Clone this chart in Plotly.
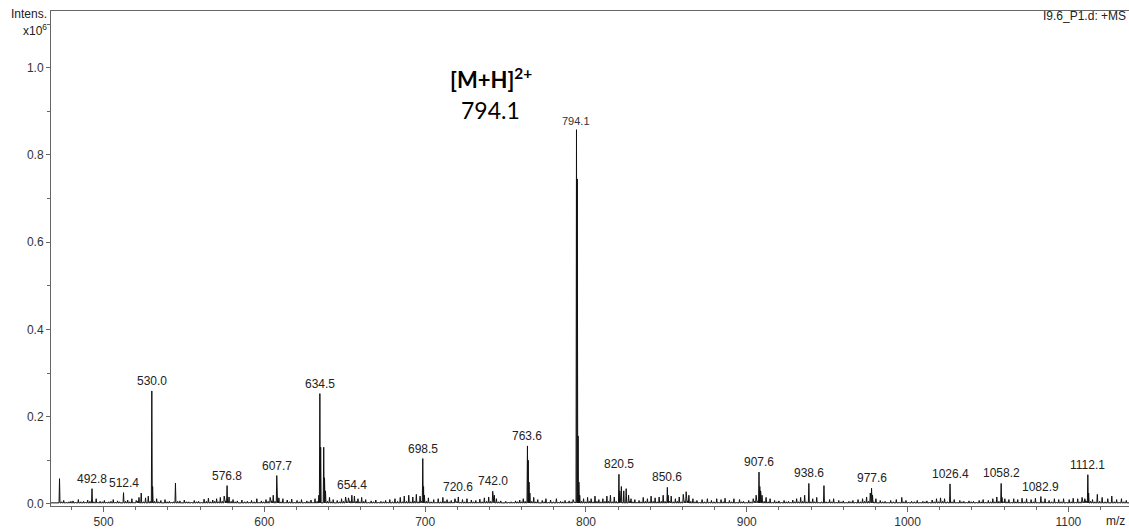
import plotly.graph_objects as go

# Annotated peaks: m/z, intensity (x10^6)
label_mz = [492.8, 512.4, 530.0, 576.8, 607.7, 634.5, 654.4, 698.5, 720.6, 742.0,
            763.6, 794.1, 820.5, 850.6, 907.6, 938.6, 977.6, 1026.4, 1058.2, 1082.9, 1112.1]
label_int = [0.035, 0.026, 0.259, 0.042, 0.065, 0.253, 0.020, 0.104, 0.016, 0.029,
             0.133, 0.858, 0.068, 0.038, 0.073, 0.047, 0.036, 0.046, 0.047, 0.017, 0.067]

# Unlabelled peaks and isotope companions
extra_mz = [472.6, 530.5, 544.7, 633.9, 635.0, 636.9, 637.4, 638.0, 699.0, 699.5,
            764.1, 764.6, 765.1, 794.6, 795.1, 795.6, 796.1, 821.0, 822.0, 823.5,
            825.0, 826.5, 851.1, 908.1, 908.6, 909.5, 936.0, 948.0, 976.8, 978.2,
            1058.7, 1112.6, 743.0]
extra_int = [0.058, 0.040, 0.048, 0.020, 0.130, 0.130, 0.060, 0.030, 0.040, 0.020,
             0.100, 0.050, 0.025, 0.745, 0.156, 0.050, 0.020, 0.030, 0.040, 0.030,
             0.035, 0.020, 0.020, 0.040, 0.030, 0.020, 0.020, 0.042, 0.025, 0.020,
             0.015, 0.025, 0.020]

# Low-level background signals
noise_mz = [475.2, 478.5, 481.0, 484.3, 487.6, 490.1, 495.4, 497.8, 500.5, 503.2, 506.0,
            508.7, 515.0, 517.6, 520.3, 522.0, 523.4, 526.1, 527.8,
            533.0, 535.6, 538.2, 540.9, 547.5, 550.2, 553.0, 556.4, 559.1, 562.5, 565.2,
            567.9, 570.3, 572.6, 575.0, 578.0, 580.5, 583.2, 586.0, 589.4, 592.0, 595.3, 598.1,
            601.0, 603.6, 605.5, 609.0, 611.5, 614.2, 617.0, 620.3, 623.1, 626.4, 629.0, 631.5,
            640.5, 642.8, 645.3, 648.0, 650.5, 652.3, 656.0, 658.2, 660.5, 663.0, 666.4, 669.3,
            672.5, 675.4, 678.0, 681.2, 684.5, 687.0, 689.8, 692.3, 694.5, 696.8,
            702.0, 705.3, 708.1, 711.0, 713.6, 716.2, 718.5, 723.2, 726.0, 728.7, 731.5, 734.0,
            736.8, 739.5, 744.3, 747.0, 750.1, 753.4, 756.2, 758.8, 761.0,
            767.5, 770.0, 772.8, 775.1, 778.0, 781.6, 784.2, 787.0, 789.5, 792.0,
            798.5, 801.0, 803.2, 805.6, 808.0, 810.5, 813.0, 815.2, 817.6, 828.0, 830.4,
            833.0, 835.6, 838.2, 840.5, 843.0, 845.5, 848.0, 853.0, 855.6, 858.0, 860.5, 862.3,
            864.0, 866.5, 869.0, 872.2, 875.5, 878.0, 881.3, 884.0, 886.5, 889.2, 892.0, 895.5,
            898.0, 901.2, 904.0, 905.8,
            912.0, 914.5, 917.3, 920.0, 923.2, 926.0, 928.6, 931.0, 933.5, 941.0, 943.5,
            951.5, 954.0, 957.2, 960.0, 963.5, 966.0, 969.2, 972.0, 974.5, 980.3, 983.0, 986.0,
            989.5, 993.0, 996.4, 999.0,
            1002.5, 1006.0, 1009.5, 1012.0, 1015.3, 1018.0, 1020.5, 1023.0, 1029.0, 1032.5,
            1035.0, 1038.2, 1041.0, 1044.5, 1047.0, 1050.2, 1053.0, 1055.5, 1060.5, 1063.0,
            1066.0, 1068.5, 1071.2, 1074.0, 1076.8, 1079.5, 1085.5, 1088.0, 1091.3, 1094.0,
            1097.0, 1100.5, 1103.0, 1105.8, 1108.5, 1110.2, 1115.0, 1118.0, 1121.0, 1124.5,
            1127.0, 1130.0, 1133.0, 1136.0]
noise_int = [0.008, 0.005, 0.007, 0.010, 0.006, 0.009, 0.012, 0.006, 0.008, 0.005, 0.010,
             0.007, 0.009, 0.012, 0.008, 0.015, 0.025, 0.014, 0.018,
             0.012, 0.008, 0.010, 0.006, 0.007, 0.009, 0.005, 0.008, 0.006, 0.011, 0.013,
             0.009, 0.012, 0.015, 0.018, 0.016, 0.010, 0.007, 0.009, 0.006, 0.008, 0.012, 0.007,
             0.010, 0.015, 0.020, 0.014, 0.012, 0.009, 0.011, 0.008, 0.010, 0.007, 0.009, 0.012,
             0.015, 0.010, 0.008, 0.012, 0.016, 0.014, 0.018, 0.012, 0.015, 0.010, 0.007, 0.009,
             0.006, 0.008, 0.010, 0.012, 0.015, 0.018, 0.020, 0.016, 0.022, 0.018,
             0.014, 0.010, 0.012, 0.015, 0.010, 0.008, 0.012, 0.010, 0.012, 0.009, 0.008, 0.011,
             0.014, 0.016, 0.012, 0.007, 0.006, 0.005, 0.007, 0.009, 0.012,
             0.015, 0.010, 0.008, 0.012, 0.009, 0.012, 0.006, 0.008, 0.007, 0.010,
             0.012, 0.015, 0.012, 0.018, 0.010, 0.012, 0.018, 0.020, 0.016, 0.012, 0.010,
             0.008, 0.015, 0.012, 0.018, 0.014, 0.016, 0.020, 0.018, 0.012, 0.016, 0.022, 0.028,
             0.020, 0.012, 0.008, 0.010, 0.012, 0.008, 0.012, 0.010, 0.013, 0.008, 0.012, 0.010,
             0.006, 0.008, 0.012, 0.020,
             0.015, 0.012, 0.008, 0.007, 0.008, 0.006, 0.009, 0.012, 0.015, 0.012, 0.015,
             0.010, 0.012, 0.008, 0.007, 0.006, 0.008, 0.010, 0.012, 0.016, 0.012, 0.008, 0.006,
             0.008, 0.010, 0.015, 0.008,
             0.006, 0.008, 0.006, 0.007, 0.009, 0.012, 0.014, 0.012, 0.010, 0.008,
             0.006, 0.007, 0.006, 0.008, 0.010, 0.008, 0.012, 0.016, 0.012, 0.010,
             0.012, 0.010, 0.013, 0.012, 0.010, 0.013, 0.012, 0.008, 0.012, 0.010,
             0.012, 0.010, 0.013, 0.012, 0.015, 0.012, 0.010, 0.022, 0.015, 0.012,
             0.018, 0.010, 0.012, 0.008]

# Fine chemical-noise spikes filling the baseline
fine_mz = [469.8, 473.9, 476.8, 479.7, 482.6, 485.9, 488.8, 491.5, 494.0, 496.5, 499.2,
           501.8, 504.6, 507.3, 510.0, 511.3, 513.7, 516.3, 518.9, 521.2, 524.8, 529.0,
           531.6, 534.3, 536.9, 539.5, 542.2, 543.5, 546.1, 548.8, 551.6, 554.7, 557.8,
           560.8, 563.9, 566.6, 569.1, 571.5, 573.8, 576.0, 579.3, 581.8, 584.6, 587.7,
           590.7, 593.6, 596.7, 599.5, 602.3, 604.6, 606.6, 608.5, 610.3, 612.9, 615.6,
           618.7, 621.7, 624.8, 627.7, 630.3, 632.8, 639.2, 641.6, 644.1, 646.7, 649.3,
           651.4, 653.3, 655.2, 657.1, 659.4, 661.8, 664.6, 667.9, 670.9, 674.0, 676.7,
           679.6, 682.9, 685.8, 688.4, 691.0, 693.4, 695.6, 697.6, 700.7, 703.7, 706.7,
           709.6, 712.3, 714.9, 717.4, 719.5, 721.8, 724.6, 727.4, 730.1, 732.8, 735.4,
           738.2, 740.8, 745.7, 748.6, 751.8, 754.8, 757.5, 759.9, 762.2, 766.3, 768.8,
           771.4, 774.0, 776.6, 779.8, 783.0, 785.6, 788.3, 790.8, 793.0, 797.3, 799.8,
           802.1, 804.4, 806.8, 809.3, 811.8, 814.1, 816.4, 818.8, 827.2, 829.2, 831.7,
           834.3, 836.9, 839.4, 841.8, 844.3, 846.8, 849.2, 852.0, 854.3, 856.8, 859.3,
           861.4, 863.2, 865.2, 867.8, 870.6, 873.8, 876.8, 879.6, 882.6, 885.3, 887.8,
           890.6, 893.8, 896.8, 899.6, 902.6, 904.9, 906.7, 910.8, 913.3, 915.9, 918.7,
           921.6, 924.6, 927.3, 929.8, 932.2, 934.8, 937.3, 939.8, 942.2, 944.8, 946.5,
           949.3, 950.6, 952.8, 955.6, 958.6, 961.8, 964.8, 967.6, 970.6, 973.3, 975.7,
           979.0, 981.6, 984.5, 987.8, 991.2, 994.7, 997.7, 1000.7, 1004.2, 1007.8, 1010.8,
           1013.6, 1016.6, 1019.3, 1021.8, 1024.8, 1027.6, 1030.8, 1033.8, 1036.6, 1039.6,
           1042.8, 1045.8, 1048.6, 1051.6, 1054.3, 1056.8, 1059.6, 1061.8, 1064.5, 1067.3,
           1069.8, 1072.6, 1075.4, 1078.2, 1081.0, 1084.2, 1086.8, 1089.6, 1092.6, 1095.5,
           1098.8, 1101.8, 1104.4, 1107.2, 1109.4, 1111.2, 1113.8, 1116.5, 1119.5, 1122.8,
           1125.8, 1128.5, 1131.5, 1134.5]
fine_int = [0.004, 0.005, 0.004, 0.006, 0.004, 0.005, 0.004, 0.006, 0.005, 0.004, 0.005,
            0.004, 0.006, 0.004, 0.005, 0.004, 0.006, 0.005, 0.004, 0.006, 0.005, 0.006,
            0.006, 0.005, 0.004, 0.005, 0.004, 0.005, 0.006, 0.004, 0.005, 0.004, 0.005,
            0.004, 0.006, 0.005, 0.006, 0.005, 0.006, 0.007, 0.006, 0.005, 0.004, 0.005,
            0.004, 0.005, 0.004, 0.005, 0.006, 0.007, 0.006, 0.006, 0.005, 0.004, 0.005,
            0.004, 0.005, 0.004, 0.005, 0.004, 0.006, 0.006, 0.005, 0.004, 0.005, 0.006,
            0.005, 0.006, 0.005, 0.006, 0.005, 0.006, 0.004, 0.005, 0.004, 0.005, 0.004,
            0.005, 0.006, 0.005, 0.006, 0.005, 0.006, 0.005, 0.006, 0.006, 0.005, 0.004,
            0.005, 0.006, 0.005, 0.004, 0.005, 0.004, 0.005, 0.004, 0.005, 0.004, 0.005,
            0.006, 0.006, 0.005, 0.004, 0.004, 0.004, 0.005, 0.005, 0.006, 0.006, 0.005,
            0.004, 0.005, 0.004, 0.005, 0.004, 0.005, 0.004, 0.005, 0.004, 0.006, 0.005,
            0.006, 0.005, 0.006, 0.005, 0.006, 0.006, 0.005, 0.006, 0.006, 0.005, 0.004,
            0.005, 0.006, 0.005, 0.006, 0.005, 0.006, 0.006, 0.006, 0.005, 0.006, 0.005,
            0.006, 0.007, 0.006, 0.005, 0.004, 0.005, 0.004, 0.005, 0.004, 0.005, 0.004,
            0.005, 0.004, 0.005, 0.004, 0.005, 0.006, 0.006, 0.006, 0.005, 0.004, 0.005,
            0.004, 0.005, 0.004, 0.005, 0.005, 0.006, 0.005, 0.005, 0.005, 0.004, 0.005,
            0.005, 0.004, 0.005, 0.004, 0.005, 0.004, 0.005, 0.004, 0.005, 0.006, 0.006,
            0.005, 0.004, 0.005, 0.004, 0.005, 0.004, 0.005, 0.004, 0.005, 0.004, 0.005,
            0.004, 0.005, 0.005, 0.006, 0.005, 0.005, 0.004, 0.005, 0.004, 0.005,
            0.004, 0.005, 0.004, 0.005, 0.005, 0.006, 0.005, 0.005, 0.004, 0.005,
            0.004, 0.005, 0.004, 0.005, 0.004, 0.005, 0.004, 0.005, 0.004, 0.005,
            0.004, 0.005, 0.004, 0.005, 0.005, 0.006, 0.006, 0.005, 0.006, 0.005,
            0.004, 0.005, 0.004, 0.005]

BASE = 0.0025
HALF_WIDTH = 0.3

# Stick profile: each peak is a narrow triangle on the baseline
all_mz = label_mz + extra_mz + noise_mz + fine_mz
all_int = label_int + extra_int + noise_int + fine_int
pts = []
for mz, h in zip(all_mz, all_int):
    pts += [(mz - HALF_WIDTH, BASE), (mz, h), (mz + HALF_WIDTH, BASE)]
pts.sort(key=lambda p: p[0])
prof_x = [467.3] + [p[0] for p in pts] + [1137.7]
prof_y = [BASE] + [p[1] for p in pts] + [BASE]

fig = go.Figure(go.Scatter(x=prof_x, y=prof_y, mode="lines",
                           line=dict(color="#111111", width=1), hoverinfo="skip"))

label_font = dict(family="Liberation Sans, Arial", size=12, color="#222222")
for mz, h in zip(label_mz, label_int):
    big = h > 0.5
    fig.add_annotation(x=mz, y=h, text=f"{mz:.1f}", showarrow=False,
                       xanchor="center", yanchor="bottom", yshift=1,
                       font=dict(family="Liberation Sans, Arial", size=11 if big else 12,
                                 color="#333333" if big else "#222222"),
                       bgcolor="rgba(255,255,255,0.9)" if big else None)

# Axis captions and header text
fig.add_annotation(xref="paper", yref="paper", x=0, y=1, xanchor="right", yanchor="middle",
                   xshift=-2, yshift=-3, text="Intens.", showarrow=False, font=label_font)
fig.add_annotation(xref="paper", yref="paper", x=0, y=1, xanchor="right", yanchor="middle",
                   xshift=-2, yshift=-19, text="x10<sup>6</sup>", showarrow=False, font=label_font)
fig.add_annotation(xref="paper", yref="paper", x=1, y=1, xanchor="right", yanchor="middle",
                   xshift=-1, yshift=-5, text="I9.6_P1.d: +MS", showarrow=False, font=label_font)
fig.add_annotation(xref="paper", yref="paper", x=1, y=0, xanchor="right", yanchor="top",
                   xshift=-2, yshift=-6, text="m/z", showarrow=False, font=label_font)

# Precursor ion callout
fig.add_annotation(xref="paper", yref="paper", x=0.408, y=0.863, xanchor="center", yanchor="middle",
                   text="<b>[M+H]<sup>2+</sup></b>", showarrow=False,
                   font=dict(family="Lato", size=22, color="#000000"))
fig.add_annotation(xref="paper", yref="paper", x=0.408, y=0.799, xanchor="center", yanchor="middle",
                   text="794.1", showarrow=False,
                   font=dict(family="Lato", size=23, color="#000000"))

fig.update_layout(
    width=1129, height=529,
    margin=dict(l=51, r=0, t=11, b=21),
    paper_bgcolor="white", plot_bgcolor="white",
    showlegend=False,
    xaxis=dict(range=[467.3, 1137.7], tickvals=[500, 600, 700, 800, 900, 1000, 1100],
               ticks="outside", ticklen=5, tickcolor="#666666",
               minor=dict(dtick=20, tick0=500, ticks="outside", ticklen=3, tickcolor="#666666"),
               showline=True, linecolor="#666666", linewidth=1, mirror=True,
               showgrid=False, zeroline=False,
               tickfont=dict(family="Liberation Sans, Arial", size=12, color="#333333")),
    yaxis=dict(range=[-0.0047, 1.130], tickvals=[0, 0.2, 0.4, 0.6, 0.8, 1.0],
               ticktext=["0.0", "0.2", "0.4", "0.6", "0.8", "1.0"],
               ticks="outside", ticklen=4, tickcolor="#666666",
               minor=dict(dtick=0.1, tick0=0, ticks="outside", ticklen=3, tickcolor="#666666"),
               showline=True, linecolor="#666666", linewidth=1,
               showgrid=False, zeroline=False,
               tickfont=dict(family="Liberation Sans, Arial", size=12, color="#333333")),
)

fig.write_html("out.html")
